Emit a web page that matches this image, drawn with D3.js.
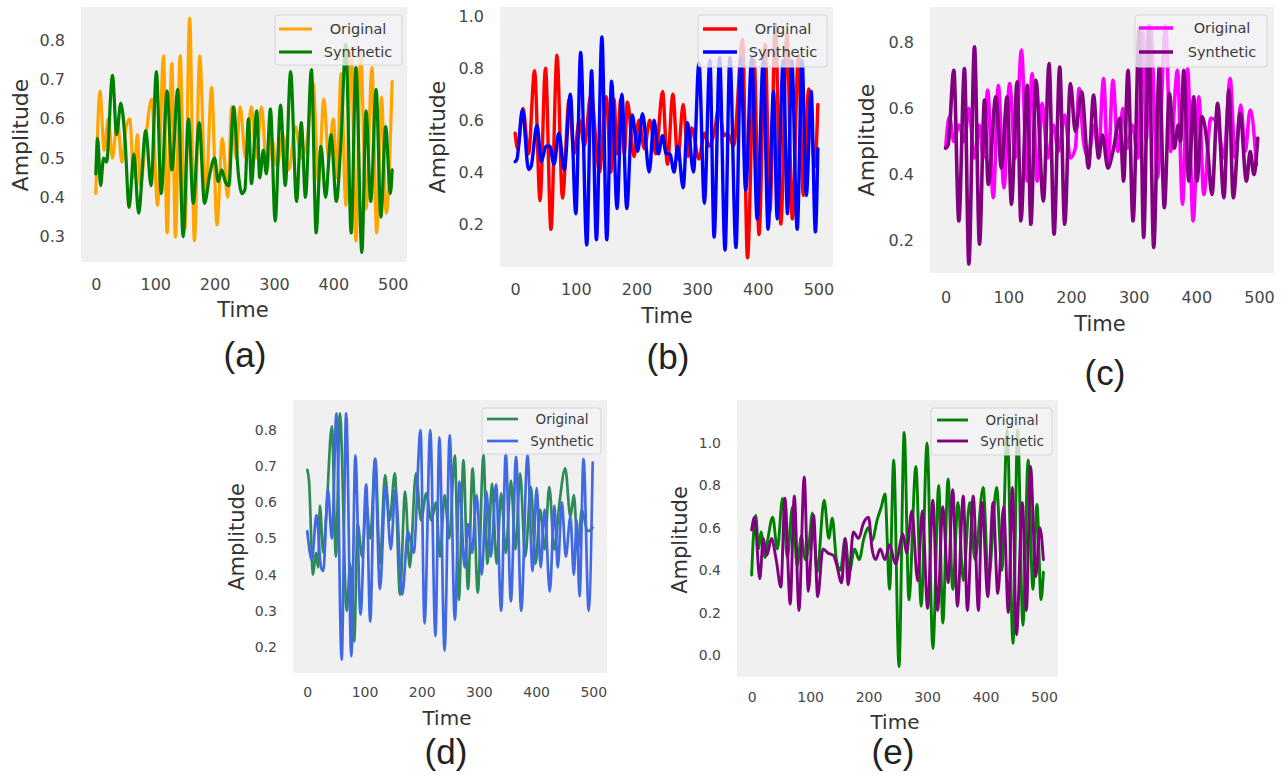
<!DOCTYPE html>
<html>
<head>
<meta charset="utf-8">
<script src="https://cdn.jsdelivr.net/npm/d3@7"></script>
<style>
  body { margin: 0; background: #fff; }
  svg { display: block; }
</style>
</head>
<body>
<svg id="chart" width="1288" height="782"></svg>
<script>
// ---- data (time, amplitude) ----
const seriesNames = ['Original', 'Synthetic']
const xTicks = [0, 100, 200, 300, 400, 500]

const aYTicks = [0.3, 0.4, 0.5, 0.6, 0.7, 0.8]
const bYTicks = [0.2, 0.4, 0.6, 0.8, 1.0]
const cYTicks = [0.2, 0.4, 0.6, 0.8]
const dYTicks = [0.2, 0.3, 0.4, 0.5, 0.6, 0.7, 0.8]
const eYTicks = [0.0, 0.2, 0.4, 0.6, 0.8, 1.0]

const aOriginal = [[0,0.41],[7,0.67],[14,0.52],[21,0.6],[28,0.5],[36,0.6],[44,0.49],[51,0.58],[57,0.6],[64,0.45],[70,0.56],[75,0.43],[84,0.55],[94,0.65],[104,0.38],[114,0.76],[120,0.31],[128,0.74],[134,0.3],[142,0.76],[150,0.32],[158,0.855],[166,0.29],[175,0.76],[185,0.4],[195,0.68],[204,0.33],[213,0.55],[222,0.4],[229,0.63],[236,0.5],[243,0.63],[252,0.5],[262,0.63],[270,0.5],[279,0.63],[288,0.47],[296,0.55],[305,0.48],[315,0.56],[325,0.47],[336,0.58],[346,0.5],[356,0.55],[366,0.69],[375,0.44],[384,0.65],[392,0.5],[400,0.6],[406,0.45],[413,0.715],[421,0.38],[430,0.78],[438,0.29],[446,0.77],[455,0.37],[465,0.73],[473,0.31],[481,0.655],[489,0.36],[499,0.695]]
const aSynthetic = [[0,0.46],[3,0.55],[8,0.43],[13,0.5],[18,0.49],[28,0.71],[35,0.56],[42,0.64],[49,0.55],[56,0.375],[64,0.51],[72,0.36],[84,0.57],[93,0.43],[102,0.72],[110,0.41],[120,0.67],[128,0.47],[138,0.675],[147,0.3],[156,0.6],[164,0.385],[174,0.59],[183,0.385],[192,0.46],[200,0.5],[206,0.44],[212,0.47],[218,0.44],[224,0.43],[232,0.63],[240,0.46],[246,0.41],[251,0.42],[257,0.6],[262,0.435],[271,0.62],[276,0.45],[282,0.52],[287,0.46],[294,0.625],[302,0.34],[311,0.635],[319,0.43],[328,0.72],[338,0.39],[346,0.59],[353,0.4],[363,0.725],[371,0.31],[379,0.53],[387,0.4],[396,0.56],[405,0.39],[413,0.55],[421,0.79],[430,0.31],[438,0.73],[448,0.26],[455,0.62],[463,0.39],[472,0.675],[480,0.35],[488,0.58],[496,0.41],[499,0.47]]

const bOriginal = [[0,0.55],[4,0.49],[13,0.645],[22,0.47],[32,0.79],[41,0.29],[50,0.8],[59,0.18],[69,0.85],[78,0.3],[89,0.68],[97,0.47],[106,0.6],[114,0.5],[125,0.7],[139,0.4],[150,0.69],[158,0.4],[163,0.68],[168,0.47],[174,0.68],[180,0.47],[185,0.67],[196,0.46],[204,0.6],[213,0.49],[222,0.6],[232,0.47],[243,0.71],[251,0.43],[260,0.7],[268,0.45],[277,0.66],[285,0.46],[291,0.57],[303,0.45],[312,0.55],[320,0.5],[328,0.55],[336,0.65],[344,0.54],[350,0.55],[360,0.5],[375,0.91],[383,0.07],[394,0.83],[402,0.16],[412,0.89],[420,0.25],[429,0.97],[438,0.2],[448,0.93],[457,0.22],[467,0.85],[475,0.31],[484,0.72],[494,0.42],[499,0.66]]
const bSynthetic = [[0,0.44],[3,0.45],[12,0.64],[22,0.41],[26,0.42],[36,0.58],[43,0.44],[51,0.5],[57,0.5],[64,0.43],[72,0.55],[81,0.41],[91,0.7],[100,0.24],[108,0.86],[118,0.12],[126,0.79],[134,0.14],[143,0.92],[151,0.14],[159,0.75],[168,0.26],[176,0.7],[184,0.26],[193,0.62],[202,0.48],[210,0.625],[221,0.4],[229,0.6],[236,0.47],[243,0.54],[249,0.47],[255,0.47],[262,0.4],[268,0.5],[277,0.34],[284,0.59],[294,0.4],[303,0.82],[312,0.28],[321,0.83],[328,0.15],[337,0.84],[346,0.1],[354,0.84],[364,0.11],[372,0.84],[380,0.33],[390,0.84],[399,0.22],[409,0.83],[417,0.18],[426,0.71],[432,0.22],[442,0.83],[449,0.24],[456,0.83],[465,0.18],[473,0.83],[480,0.31],[488,0.71],[495,0.17],[499,0.49]]

const cOriginal = [[0,0.48],[6,0.575],[13,0.5],[21,0.55],[30,0.5],[37,0.6],[46,0.45],[54,0.55],[60,0.45],[67,0.655],[76,0.33],[84,0.67],[93,0.36],[102,0.675],[111,0.45],[121,0.776],[130,0.38],[138,0.705],[146,0.38],[154,0.615],[163,0.45],[172,0.55],[180,0.47],[190,0.58],[199,0.45],[207,0.48],[213,0.66],[220,0.5],[228,0.45],[236,0.55],[244,0.47],[252,0.69],[259,0.42],[267,0.685],[275,0.47],[283,0.6],[290,0.48],[298,0.55],[307,0.45],[315,0.83],[320,0.5],[327,0.85],[338,0.39],[351,0.85],[359,0.47],[370,0.715],[378,0.31],[386,0.72],[395,0.26],[404,0.635],[412,0.34],[423,0.57],[433,0.56],[444,0.45],[454,0.69],[462,0.45],[471,0.61],[478,0.47],[486,0.595],[496,0.43]]
const cSynthetic = [[0,0.48],[4,0.49],[13,0.715],[21,0.26],[30,0.72],[37,0.13],[46,0.786],[54,0.19],[62,0.625],[68,0.37],[80,0.635],[89,0.42],[98,0.635],[105,0.31],[114,0.68],[120,0.26],[130,0.67],[136,0.25],[144,0.685],[156,0.32],[165,0.735],[173,0.22],[182,0.725],[190,0.25],[199,0.675],[207,0.53],[217,0.65],[228,0.42],[236,0.64],[244,0.45],[250,0.52],[259,0.42],[267,0.47],[278,0.57],[284,0.38],[291,0.715],[299,0.26],[309,0.845],[316,0.21],[324,0.85],[332,0.18],[341,0.725],[349,0.3],[357,0.645],[365,0.48],[371,0.55],[375,0.5],[380,0.715],[388,0.38],[396,0.635],[401,0.38],[409,0.575],[417,0.5],[425,0.34],[434,0.615],[444,0.33],[452,0.655],[459,0.33],[470,0.585],[480,0.38],[486,0.47],[492,0.4],[498,0.51]]

const dOriginal = [[0,0.69],[3,0.66],[10,0.4],[15,0.46],[19,0.42],[22,0.59],[28,0.46],[33,0.56],[43,0.81],[50,0.45],[57,0.846],[69,0.3],[75,0.43],[82,0.215],[88,0.54],[96,0.45],[103,0.6],[110,0.5],[119,0.72],[127,0.43],[136,0.675],[144,0.55],[153,0.68],[162,0.345],[171,0.63],[179,0.42],[190,0.68],[199,0.55],[208,0.625],[217,0.55],[225,0.6],[232,0.45],[240,0.62],[248,0.5],[258,0.73],[265,0.33],[273,0.717],[281,0.36],[289,0.694],[298,0.35],[308,0.73],[315,0.43],[323,0.652],[331,0.43],[339,0.625],[347,0.46],[356,0.66],[364,0.47],[372,0.68],[381,0.45],[391,0.643],[399,0.43],[407,0.58],[415,0.47],[423,0.643],[432,0.47],[441,0.6],[451,0.694],[460,0.56],[466,0.62],[473,0.47],[480,0.58],[490,0.52],[499,0.53]]
const dSynthetic = [[0,0.52],[8,0.44],[16,0.565],[24,0.42],[28,0.41],[36,0.635],[43,0.5],[51,0.846],[60,0.165],[68,0.846],[77,0.174],[84,0.73],[93,0.29],[103,0.65],[110,0.27],[118,0.72],[127,0.36],[137,0.645],[146,0.47],[154,0.635],[166,0.345],[176,0.52],[186,0.46],[198,0.8],[205,0.265],[215,0.8],[224,0.23],[231,0.78],[240,0.19],[249,0.786],[258,0.275],[266,0.657],[275,0.42],[281,0.54],[288,0.46],[296,0.62],[305,0.4],[313,0.63],[321,0.45],[330,0.65],[339,0.3],[347,0.735],[356,0.326],[365,0.726],[374,0.3],[385,0.73],[394,0.41],[401,0.64],[408,0.42],[415,0.58],[424,0.353],[432,0.59],[438,0.42],[445,0.6],[452,0.45],[460,0.56],[466,0.4],[471,0.55],[476,0.34],[483,0.72],[492,0.3],[499,0.71]]

const eOriginal = [[0,0.377],[4,0.6],[7,0.66],[12,0.5],[16,0.58],[23,0.46],[28,0.55],[36,0.65],[44,0.5],[53,0.74],[61,0.46],[70,0.7],[78,0.42],[85,0.56],[92,0.45],[98,0.52],[104,0.67],[112,0.39],[124,0.73],[132,0.55],[138,0.645],[145,0.45],[152,0.4],[160,0.55],[167,0.39],[176,0.5],[184,0.45],[192,0.55],[200,0.6],[206,0.54],[215,0.64],[222,0.7],[228,0.76],[236,0.31],[243,0.92],[252,-0.055],[261,1.05],[269,0.26],[281,0.89],[290,0.23],[300,1.0],[310,0.03],[320,0.8],[327,0.15],[336,0.83],[344,0.31],[353,0.72],[362,0.35],[373,0.72],[382,0.45],[396,0.79],[405,0.35],[419,0.79],[428,0.4],[437,1.06],[447,0.055],[455,1.06],[464,0.14],[473,0.92],[481,0.31],[488,0.71],[495,0.26],[499,0.39]]
const eSynthetic = [[0,0.59],[5,0.65],[14,0.36],[20,0.55],[26,0.47],[34,0.55],[42,0.45],[50,0.32],[57,0.74],[66,0.24],[73,0.75],[81,0.21],[90,0.84],[97,0.3],[106,0.66],[113,0.275],[122,0.5],[131,0.48],[140,0.47],[145,0.43],[154,0.34],[160,0.55],[165,0.33],[174,0.58],[183,0.55],[191,0.62],[200,0.65],[206,0.5],[212,0.45],[220,0.5],[228,0.45],[236,0.52],[246,0.43],[259,0.57],[265,0.48],[274,0.68],[284,0.35],[292,0.68],[301,0.22],[310,0.73],[318,0.21],[327,0.7],[336,0.34],[344,0.78],[352,0.23],[362,0.75],[369,0.21],[379,0.75],[388,0.21],[394,0.72],[404,0.275],[413,0.72],[421,0.29],[431,0.7],[439,0.2],[446,0.79],[453,0.095],[463,0.72],[470,0.21],[477,0.89],[486,0.37],[493,0.6],[499,0.45]]

// ---- layout of the five subplots ----
const panels = [
  { tag: '(a)', box: [81, 7, 407, 262], yDomain: [0.236, 0.884], yTicks: aYTicks,
    series: [aOriginal, aSynthetic], colors: ['#ffa500', '#008000'], lw: 3.2,
    tickFont: 16, tickGap: 23, labelFont: 21, time: [243, 310], amp: [20, 135], name: [245, 355],
    legend: { x0: 275, y0: 15, x1: 402, y1: 65, hx0: 279, hx1: 312, tx: 358, ly: [29, 52], fs: 14.5 } },
  { tag: '(b)', box: [500, 7, 833, 267], yDomain: [0.035, 1.035], yTicks: bYTicks,
    series: [bOriginal, bSynthetic], colors: ['#ff0000', '#0000ff'], lw: 3.4,
    tickFont: 16, tickGap: 23, labelFont: 21, time: [667, 316], amp: [437, 137], name: [668, 357],
    legend: { x0: 698, y0: 15, x1: 827, y1: 67, hx0: 703, hx1: 737, tx: 783, ly: [29, 52], fs: 14.5 } },
  { tag: '(c)', box: [930, 7, 1274, 273], yDomain: [0.103, 0.906], yTicks: cYTicks,
    series: [cOriginal, cSynthetic], colors: ['#ff00ff', '#800080'], lw: 3.6,
    tickFont: 16, tickGap: 25, labelFont: 21, time: [1100, 324], amp: [866, 140], name: [1105, 373],
    legend: { x0: 1135, y0: 15, x1: 1267, y1: 67, hx0: 1139, hx1: 1173, tx: 1222, ly: [28, 52], fs: 14.5 } },
  { tag: '(d)', box: [293, 400, 607, 673], yDomain: [0.128, 0.883], yTicks: dYTicks,
    series: [dOriginal, dSynthetic], colors: ['#2e8b57', '#4169e1'], lw: 2.7,
    tickFont: 14, tickGap: 20, labelFont: 20, time: [447, 718], amp: [237, 537], name: [446, 752],
    legend: { x0: 482, y0: 408, x1: 601, y1: 454, hx0: 487, hx1: 518, tx: 562, ly: [419, 441], fs: 13.5 } },
  { tag: '(e)', box: [737, 400, 1058, 677], yDomain: [-0.104, 1.203], yTicks: eYTicks,
    series: [eOriginal, eSynthetic], colors: ['#008000', '#800080'], lw: 2.9,
    tickFont: 14, tickGap: 21, labelFont: 20, time: [895, 722], amp: [680, 540], name: [893, 752],
    legend: { x0: 931, y0: 408, x1: 1052, y1: 455, hx0: 937, hx1: 968, tx: 1012, ly: [420, 441], fs: 13.5 } }
]

const svg = d3.select('#chart')
const tickColor = '#474747'

panels.forEach((p, i) => {
  const [x0, y0, x1, y1] = p.box
  const x = d3.scaleLinear().domain([-25, 524]).range([x0, x1])
  const y = d3.scaleLinear().domain(p.yDomain).range([y1, y0])

  const g = svg.append('g').attr('class', 'panel')

  g.append('rect')
      .attr('x', x0).attr('y', y0)
      .attr('width', x1 - x0).attr('height', y1 - y0)
      .attr('fill', '#f0f0f1')

  g.append('clipPath').attr('id', 'clip' + i)
    .append('rect')
      .attr('x', x0).attr('y', y0)
      .attr('width', x1 - x0).attr('height', y1 - y0)

  // axes without lines, only labels (seaborn-ish look)
  const xAxis = g.append('g')
      .attr('transform', `translate(0, ${y1 + p.tickGap - 6})`)
      .call(d3.axisBottom(x).tickValues(xTicks).tickSize(0).tickPadding(0))
  const yAxis = g.append('g')
      .attr('transform', `translate(${x0 - 16}, 0)`)
      .call(d3.axisLeft(y).tickValues(p.yTicks).tickFormat(d3.format('.1f')).tickSize(0).tickPadding(0))

  ;[xAxis, yAxis].forEach(ax => {
    ax.select('.domain').remove()
    ax.selectAll('text')
        .attr('fill', tickColor)
        .style('font-family', "'DejaVu Sans', sans-serif")
        .style('font-size', p.tickFont + 'px')
  })
  xAxis.selectAll('text').attr('dy', '0.71em').attr('y', 0)

  const line = d3.line()
      .x(d => x(d[0]))
      .y(d => y(d[1]))
      .curve(d3.curveMonotoneX)

  g.append('g')
      .attr('clip-path', `url(#clip${i})`)
    .selectAll('path')
    .data(p.series)
    .join('path')
      .attr('d', line)
      .attr('fill', 'none')
      .attr('stroke', (d, k) => p.colors[k])
      .attr('stroke-width', p.lw)
      .attr('stroke-linejoin', 'round')
      .attr('stroke-linecap', 'round')

  // legend
  const L = p.legend
  const lg = g.append('g')
  lg.append('rect')
      .attr('x', L.x0).attr('y', L.y0)
      .attr('width', L.x1 - L.x0).attr('height', L.y1 - L.y0)
      .attr('rx', 3)
      .attr('fill', '#f4f4f6').attr('fill-opacity', 0.8)
      .attr('stroke', '#d6d6d8')
  seriesNames.forEach((name, k) => {
    lg.append('line')
        .attr('x1', L.hx0).attr('x2', L.hx1)
        .attr('y1', L.ly[k]).attr('y2', L.ly[k])
        .attr('stroke', p.colors[k])
        .attr('stroke-width', p.lw)
    lg.append('text')
        .attr('x', L.tx).attr('y', L.ly[k])
        .attr('dy', '0.35em')
        .attr('text-anchor', 'middle')
        .attr('fill', '#3a3a3a')
        .style('font-family', "'DejaVu Sans', sans-serif")
        .style('font-size', L.fs + 'px')
        .text(name)
  })

  // axis titles
  g.append('text')
      .attr('x', p.time[0]).attr('y', p.time[1])
      .attr('dy', '0.35em')
      .attr('text-anchor', 'middle')
      .attr('fill', '#333')
      .style('font-family', "'DejaVu Sans', sans-serif")
      .style('font-size', p.labelFont + 'px')
      .text('Time')

  g.append('text')
      .attr('transform', `translate(${p.amp[0]}, ${p.amp[1]}) rotate(-90)`)
      .attr('dy', '0.35em')
      .attr('text-anchor', 'middle')
      .attr('fill', '#333')
      .style('font-family', "'DejaVu Sans', sans-serif")
      .style('font-size', (p.labelFont + 1) + 'px')
      .text('Amplitude')

  g.append('text')
      .attr('x', p.name[0]).attr('y', p.name[1])
      .attr('dy', '0.35em')
      .attr('text-anchor', 'middle')
      .attr('fill', '#222')
      .style('font-family', "'Liberation Sans', Arial, sans-serif")
      .style('font-size', '35px')
      .text(p.tag)
})
</script>
</body>
</html>
